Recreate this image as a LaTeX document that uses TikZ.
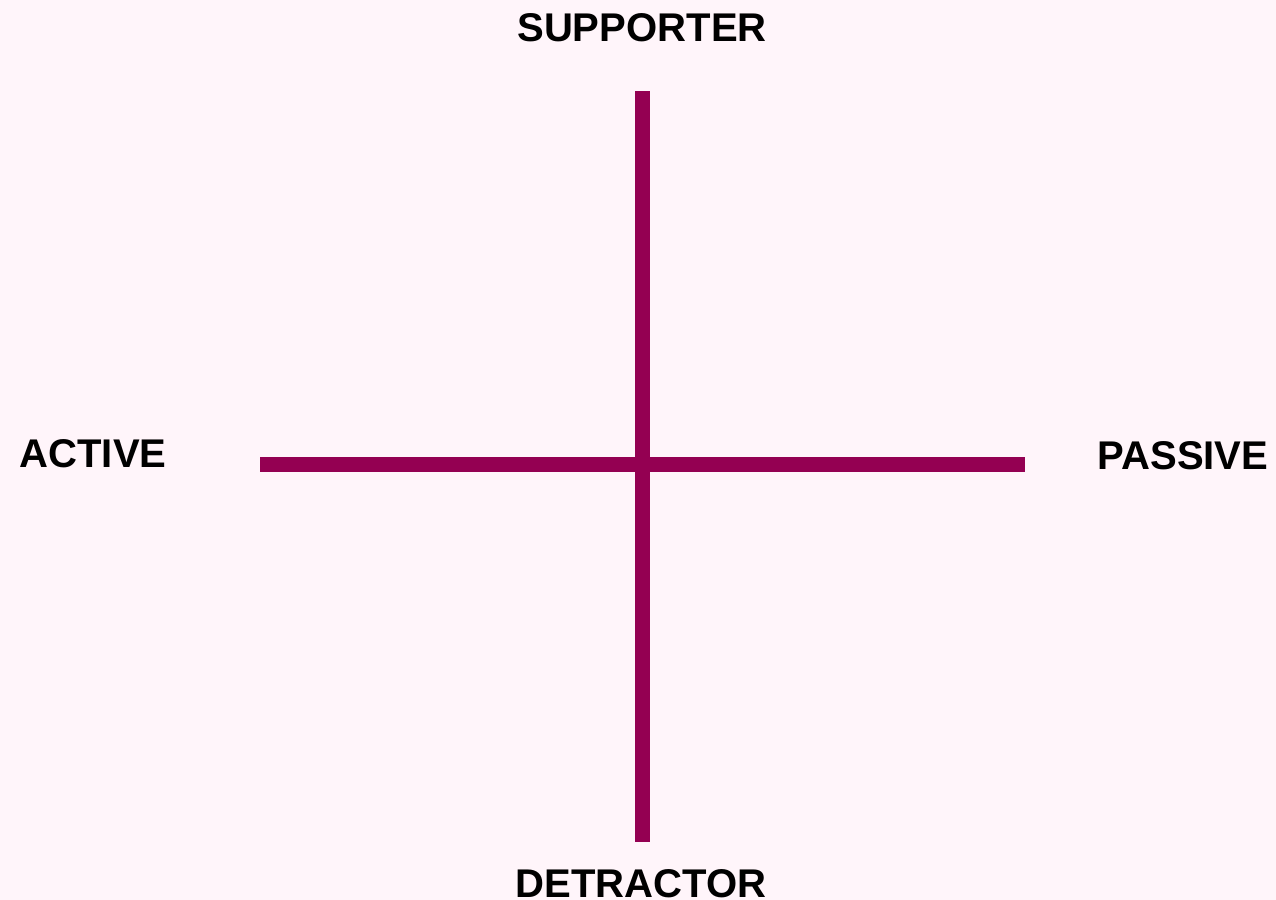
\documentclass[tikz,border=0pt]{standalone}
\usepackage{fontspec}
\setmainfont{Liberation Sans}
\usepackage{xcolor}
\definecolor{cAxis}{HTML}{940052}
\definecolor{cPaper}{HTML}{FFF5FA}

\begin{document}
\begin{tikzpicture}[
  x=0.02cm,y=-0.02cm,
  lbl/.style={inner sep=0pt,anchor=base,font=\fontsize{22.8}{24}\selectfont\bfseries},
  axis/.style={draw=cAxis,line width=0.3cm},
  ]
  \fill[cPaper] (0,0) rectangle (1276,900);
  \useasboundingbox (0,0) rectangle (1276,900);

  \coordinate (top) at (642.5,91);
  \coordinate (bot) at (642.5,842);
  \coordinate (lft) at (260,464.5);
  \coordinate (rgt) at (1025,464.5);

  \draw[axis] (top) -- (bot);
  \draw[axis] (lft) -- (rgt);

  \node[lbl] (sup) at (642,41) {SUPPORTER};
  \node[lbl] (det) at (641,897) {DETRACTOR};
  \node[lbl] (act) at (93,467) {ACTIVE};
  \node[lbl] (pas) at (1183,469) {PASSIVE};
\end{tikzpicture}
\end{document}
